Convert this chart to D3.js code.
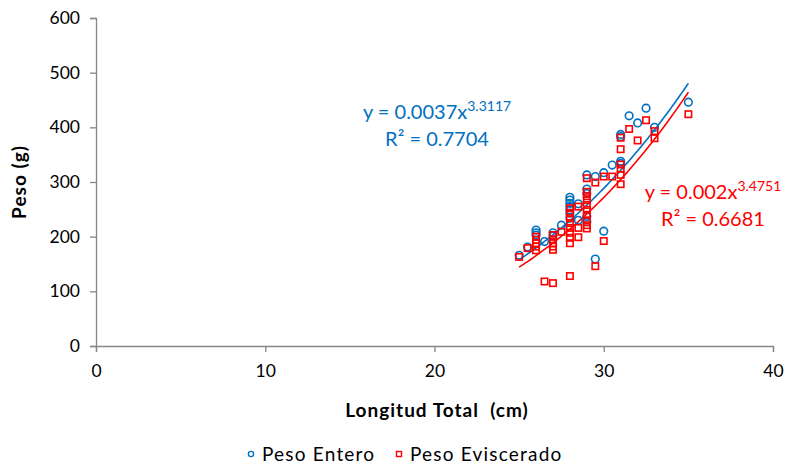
<!DOCTYPE html>
<html>
<head>
<meta charset="utf-8">
<script src="https://cdn.jsdelivr.net/npm/d3@7"></script>
<style>
  html, body { margin: 0; padding: 0; background: #fff; }
  svg text { font-family: Lato, "Open Sans", sans-serif; white-space: pre; }
</style>
</head>
<body>
<svg id="chart" width="792" height="466"></svg>
<script>
// Longitud total (cm) y peso (g) de cada ejemplar
const enteroX = [25, 25.5, 26, 26, 26, 26.5, 27, 27, 27.5,
  28, 28, 28, 28, 28, 28, 28, 28.5, 28.5,
  29, 29, 29, 29, 29, 29.5, 29.5, 30, 30, 30.5,
  31, 31, 31, 31, 31.5, 32, 32.5, 33, 35];
const enteroY = [166, 181, 212, 207, 203, 191, 207, 201, 221,
  272, 267, 261, 255, 249, 243, 234, 260, 230,
  313, 287, 279, 237, 227, 310, 159, 317, 210, 331,
  387, 383, 338, 334, 421, 408, 435, 400, 446];

const evisceradoX = [25, 25.5, 26, 26, 26, 26, 26, 26.5,
  27, 27, 27, 27, 27, 27, 27.5,
  28, 28, 28, 28, 28, 28, 28, 28, 28, 28.5, 28.5, 28.5,
  29, 29, 29, 29, 29, 29, 29, 29, 29, 29,
  29.5, 29.5, 30, 30, 30.5,
  31, 31, 31, 31, 31, 31, 31.5, 32, 32.5, 33, 33, 35];
const evisceradoY = [163, 179, 200, 194, 188, 182, 175, 118,
  203, 195, 188, 182, 176, 115, 209,
  252, 243, 234, 225, 216, 207, 198, 188, 128, 255, 216, 199,
  307, 282, 274, 267, 258, 249, 240, 230, 221, 215,
  299, 146, 310, 192, 310,
  381, 360, 332, 324, 313, 296, 397, 376, 413, 393, 380, 424];

// Ajustes potenciales y = a·x^b
const fitA = [0.0037, 0.002];
const fitB = [3.3117, 3.4751];
const fitR2 = ["0.7704", "0.6681"];

const xTicks = [0, 10, 20, 30, 40];
const yTicks = [0, 100, 200, 300, 400, 500, 600];
const seriesNames = ["Peso Entero", "Peso Eviscerado"];

const blue = "#0070C0", red = "#FF0000", axisGrey = "#868686";

const svg = d3.select("#chart");
const x = d3.scaleLinear().domain([0, 40]).range([96, 773]);
const y = d3.scaleLinear().domain([0, 600]).range([346, 18]);

// Ejes
const xAxis = svg.append("g").attr("transform", `translate(0,${y(0)})`)
  .call(d3.axisBottom(x).tickValues(xTicks).tickSize(6).tickPadding(13));
const yAxis = svg.append("g").attr("transform", `translate(${x(0)},0)`)
  .call(d3.axisLeft(y).tickValues(yTicks).tickSize(6).tickPadding(10));
[xAxis, yAxis].forEach(g => {
  g.select(".domain").attr("stroke", axisGrey).attr("stroke-width", 1.3);
  g.selectAll(".tick line").attr("stroke", axisGrey).attr("stroke-width", 1.3);
  g.selectAll(".tick text").attr("fill", "#000").style("font-size", "17.5px")
    .style("font-family", "Lato, sans-serif");
});

// Títulos de ejes
svg.append("text").attr("x", 437).attr("y", 417).attr("text-anchor", "middle")
  .style("font-size", "19px").style("font-weight", "bold").style("letter-spacing", "1px")
  .attr("fill", "#000").text("Longitud Total  (cm)");
svg.append("text").attr("transform", "translate(26,182) rotate(-90)")
  .attr("text-anchor", "middle").style("font-size", "19px").style("font-weight", "bold")
  .style("letter-spacing", "1px").attr("fill", "#000").text("Peso (g)");

// Curvas de tendencia
const line = d3.line().x(d => x(d[0])).y(d => y(d[1]));
const series = [
  {xs: enteroX, ys: enteroY, color: blue, a: fitA[0], b: fitB[0]},
  {xs: evisceradoX, ys: evisceradoY, color: red, a: fitA[1], b: fitB[1]}
];
series.forEach(s => {
  const x0 = d3.min(s.xs), x1 = d3.max(s.xs);
  const pts = d3.range(0, 101).map(i => {
    const xv = x0 + (x1 - x0) * i / 100;
    return [xv, s.a * Math.pow(xv, s.b)];
  });
  svg.append("path").datum(pts).attr("d", line)
    .attr("fill", "none").attr("stroke", s.color).attr("stroke-width", 1.6);
});

// Puntos: círculos (entero) y cuadrados (eviscerado)
svg.append("g").selectAll("circle").data(enteroX.map((v, i) => [v, enteroY[i]]))
  .join("circle").attr("cx", d => x(d[0])).attr("cy", d => y(d[1])).attr("r", 3.8)
  .attr("fill", "none").attr("stroke", blue).attr("stroke-width", 1.6);
svg.append("g").selectAll("rect").data(evisceradoX.map((v, i) => [v, evisceradoY[i]]))
  .join("rect").attr("x", d => x(d[0]) - 3.2).attr("y", d => y(d[1]) - 3.2)
  .attr("width", 6.4).attr("height", 6.4)
  .attr("fill", "none").attr("stroke", red).attr("stroke-width", 1.6);

// Ecuaciones
function equation(cx, cy, color, a, b, r2) {
  const t = svg.append("text").attr("x", cx).attr("y", cy).attr("text-anchor", "middle")
    .attr("fill", color).style("font-size", "20px");
  t.append("tspan").text(`y = ${a}x`);
  t.append("tspan").attr("dy", -8).style("font-size", "14px").text(b);
  svg.append("text").attr("x", cx).attr("y", cy + 27).attr("text-anchor", "middle")
    .attr("fill", color).style("font-size", "20px").text(`R² = ${r2}`);
}
equation(437, 119, blue, fitA[0], fitB[0], fitR2[0]);
equation(713, 199, red, fitA[1], fitB[1], fitR2[1]);

// Leyenda
const leg = svg.append("g");
leg.append("circle").attr("cx", 251).attr("cy", 454).attr("r", 2.6)
  .attr("fill", "none").attr("stroke", blue).attr("stroke-width", 1.4);
leg.append("text").attr("x", 262).attr("y", 461).style("font-size", "19px")
  .style("letter-spacing", "1.2px").attr("fill", "#000").text(seriesNames[0]);
leg.append("rect").attr("x", 396.5).attr("y", 451.5).attr("width", 5).attr("height", 5)
  .attr("fill", "none").attr("stroke", red).attr("stroke-width", 1.4);
leg.append("text").attr("x", 410).attr("y", 461).style("font-size", "19px")
  .style("letter-spacing", "1.2px").attr("fill", "#000").text(seriesNames[1]);
</script>
</body>
</html>
